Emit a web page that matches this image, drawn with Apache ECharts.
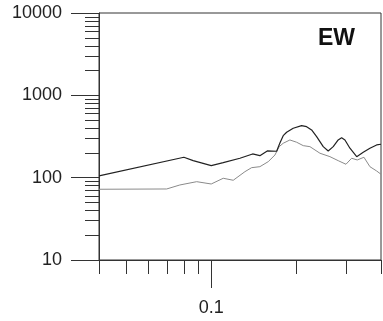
<!DOCTYPE html>
<html><head><meta charset="utf-8">
<script src="https://cdn.jsdelivr.net/npm/echarts@6/dist/echarts.min.js"></script>
<style>html,body{margin:0;padding:0;background:#fff}#c{width:383px;height:321px}</style>
</head><body><div id="c"></div>
<script>
// Frequency (x) and amplitude (y) arrays
const freqBlack = [0.04, 0.08, 0.0863, 0.1, 0.1103, 0.1264, 0.1402, 0.1488, 0.158, 0.1706, 0.1752, 0.18, 0.1851, 0.1953, 0.2092, 0.2179, 0.227, 0.2365, 0.2496, 0.2599, 0.2708, 0.282, 0.29, 0.298, 0.3104, 0.328, 0.346, 0.3654, 0.386, 0.4];
const ampBlack  = [105, 177, 160.9, 139.9, 152.2, 172.1, 194.1, 185, 211, 209.3, 264, 323.8, 356.2, 398.4, 428.2, 416.6, 379.9, 314.9, 238.1, 211, 238.1, 287.1, 306.2, 287.1, 227.7, 180, 203.5, 227.7, 249.6, 254.6];
const freqGray  = [0.04, 0.0695, 0.0774, 0.0888, 0.1, 0.1103, 0.1197, 0.1317, 0.1391, 0.1488, 0.1593, 0.1683, 0.1742, 0.18, 0.1901, 0.2009, 0.212, 0.2239, 0.243, 0.2636, 0.282, 0.3005, 0.3147, 0.3295, 0.348, 0.3654, 0.386, 0.4];
const ampGray   = [72.3, 72.9, 81.5, 89.4, 83.8, 98.3, 93, 118.3, 132.3, 136, 156.5, 188.7, 238.1, 261.8, 287.1, 269.2, 244.8, 238.1, 198, 180, 160.9, 145.5, 172.1, 164.1, 177, 136, 120.6, 110];
const yMajorTicks = [10, 100, 1000, 10000];
const yMinorTicks = [20,30,40,50,60,70,80,90,200,300,400,500,600,700,800,900,2000,3000,4000,5000,6000,7000,8000,9000];
const xMajorTicks = [0.1];
const xMinorTicks = [0.04,0.05,0.06,0.07,0.08,0.09,0.2,0.3,0.4];
const panelTitle = 'EW';

const FONT = 'Liberation Sans, Arial, sans-serif';
const AX = '#333';
const chart = echarts.init(document.getElementById('c'));
const zip = (xs, ys) => xs.map((x, i) => [x, ys[i]]);
chart.setOption({
  animation: false,
  title: { text: panelTitle, left: 313, top: 22, textStyle: { fontFamily: FONT, fontSize: 23, fontWeight: 'bold', color: '#111' } },
  grid: { left: 99, right: 2, top: 13, bottom: 61, show: true, borderColor: AX, borderWidth: 1, backgroundColor: 'transparent' },
  xAxis: [
    { type: 'log', min: 0.04, max: 0.4, position: 'bottom',
      axisLine: { show: true, lineStyle: { color: AX, width: 1 } },
      axisTick: { show: true, customValues: xMajorTicks, length: 28, lineStyle: { color: AX } },
      axisLabel: { show: true, customValues: xMajorTicks, margin: 39, fontFamily: FONT, fontSize: 18, color: '#222', formatter: v => String(Math.round(v * 1000) / 1000) },
      splitLine: { show: false } },
    { type: 'log', min: 0.04, max: 0.4, position: 'bottom',
      axisLine: { show: false },
      axisTick: { show: true, customValues: xMinorTicks, length: 14, lineStyle: { color: AX } },
      axisLabel: { show: false }, splitLine: { show: false } }
  ],
  yAxis: [
    { type: 'log', min: 10, max: 10000, position: 'left',
      axisLine: { show: true, lineStyle: { color: AX, width: 1 } },
      axisTick: { show: true, customValues: yMajorTicks, length: 28, lineStyle: { color: AX } },
      axisLabel: { show: true, customValues: yMajorTicks, margin: 37, fontFamily: FONT, fontSize: 18, color: '#222', formatter: v => String(Math.round(v)) },
      splitLine: { show: false } },
    { type: 'log', min: 10, max: 10000, position: 'left',
      axisLine: { show: false },
      axisTick: { show: true, customValues: yMinorTicks, length: 14, lineStyle: { color: AX } },
      axisLabel: { show: false }, splitLine: { show: false } }
  ],
  series: [
    { type: 'line', data: zip(freqGray, ampGray), xAxisIndex: 0, yAxisIndex: 0, showSymbol: false, symbol: 'none',
      lineStyle: { color: '#8a8a8a', width: 1 } },
    { type: 'line', data: zip(freqBlack, ampBlack), xAxisIndex: 0, yAxisIndex: 0, showSymbol: false, symbol: 'none',
      lineStyle: { color: '#222', width: 1.2 } }
  ]
});
</script></body></html>
